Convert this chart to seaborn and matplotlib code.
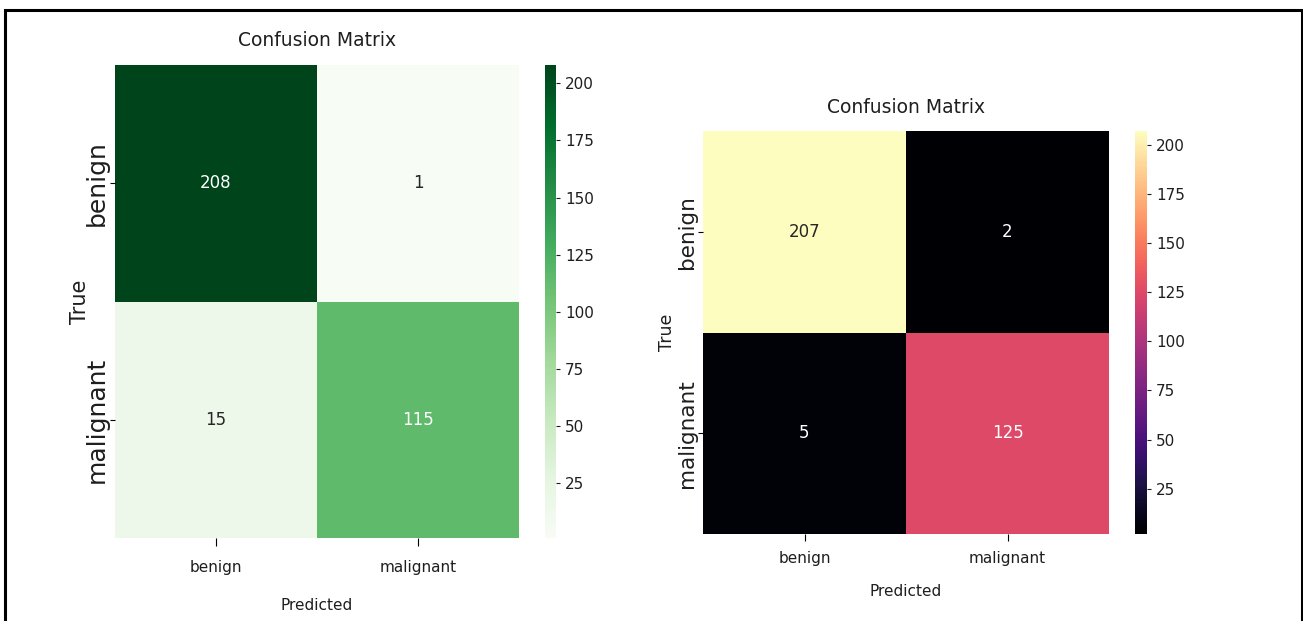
import numpy as np
import matplotlib
matplotlib.use("Agg")
import matplotlib.pyplot as plt
from matplotlib.patches import Rectangle
import seaborn as sns

# ---- data -------------------------------------------------------------
class_labels = ["benign", "malignant"]
cm_greens = [[208, 1],
             [15, 115]]
cm_magma = [[207, 2],
            [5, 125]]
cbar_ticks = [25, 50, 75, 100, 125, 150, 175, 200]
title_text = "Confusion Matrix"
x_label = "Predicted"
y_label = "True"

plt.rcParams["font.family"] = ["DejaVu Sans"]
TEXT = "#1e1e1e"

W, H = 1303, 621
fig = plt.figure(figsize=(W / 100, H / 100), dpi=100)


def box(x0, y0, x1, y1):
    """Pixel box (top-left origin) -> figure-fraction rect."""
    return [x0 / W, 1 - y1 / H, (x1 - x0) / W, (y1 - y0) / H]


def draw_matrix(values, cmap, ax_box, cax_box, sizes, title_y, xlab_y, ylab_x,
                xtick_len, xtick_pad, ytick_pad):
    ax = fig.add_axes(box(*ax_box))
    cax = fig.add_axes(box(*cax_box))
    data = np.array(values, dtype=int)
    sns.heatmap(data, annot=True, fmt="d", cmap=cmap, ax=ax, cbar_ax=cax,
                xticklabels=class_labels, yticklabels=class_labels,
                annot_kws={"fontsize": sizes["annot"]},
                cbar_kws={"ticks": cbar_ticks})
    cax.tick_params(labelsize=sizes["cbar"], colors=TEXT, length=3, width=0.8)

    ax.tick_params(axis="x", length=xtick_len, pad=xtick_pad, width=0.8,
                   labelsize=sizes["xtick"], labelcolor=TEXT)
    ax.tick_params(axis="y", length=3.5, width=0.8, pad=ytick_pad,
                   labelcolor=TEXT)
    for t in ax.get_yticklabels():
        t.set(rotation=90, va="center", ha="center",
              fontsize=sizes["ytick"], rotation_mode="default")

    ax.set_title(title_text, fontsize=sizes["title"], color=TEXT,
                 y=title_y, pad=0, va="center")
    ax.set_xlabel(x_label, fontsize=sizes["xlabel"], color=TEXT)
    ax.xaxis.set_label_coords(0.5, xlab_y)
    ax.xaxis.label.set_va("center")
    ax.set_ylabel(y_label, fontsize=sizes["ylabel"], color=TEXT)
    ax.yaxis.set_label_coords(ylab_x, 0.5)
    ax.yaxis.label.set_va("center")
    return ax


# left matrix (Greens)
draw_matrix(cm_greens, "Greens",
            ax_box=(115, 65, 519, 538), cax_box=(545, 65, 556, 538),
            sizes=dict(annot=12, cbar=11, xtick=11, ytick=18, title=13.5,
                       xlabel=11, ylabel=15),
            title_y=(538 - 40) / 473, xlab_y=(538 - 606) / 473,
            ylab_x=(80 - 115) / 404, xtick_len=6, xtick_pad=10,
            ytick_pad=9.5)

# right matrix (magma)
draw_matrix(cm_magma, "magma",
            ax_box=(703, 131, 1109, 534), cax_box=(1135, 131, 1147, 534),
            sizes=dict(annot=12, cbar=11, xtick=11, ytick=15.5, title=13.5,
                       xlabel=11, ylabel=12.5),
            title_y=(534 - 107) / 403, xlab_y=(534 - 592) / 403,
            ylab_x=(667.5 - 703) / 406, xtick_len=5, xtick_pad=7,
            ytick_pad=8.2)

# outer frame around both panels
fig.patches.append(Rectangle((5 / W, -0.05), (1302 - 5) / W, 1.05 - 10 / H,
                             transform=fig.transFigure, fill=False,
                             edgecolor="black", linewidth=2.2, clip_on=False))

fig.savefig("out.png", dpi=100)
